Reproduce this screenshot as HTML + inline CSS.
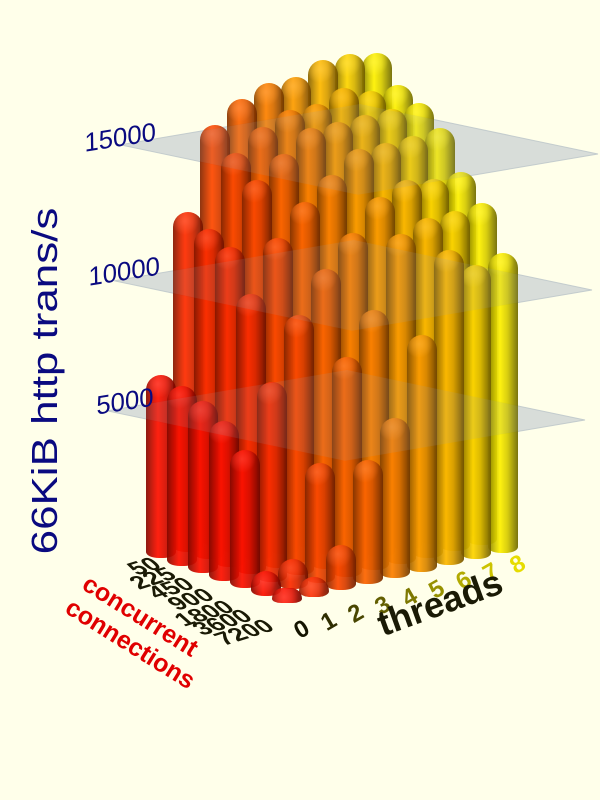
<!DOCTYPE html>
<html><head><meta charset="utf-8"><style>
html,body{margin:0;padding:0}
body{width:600px;height:800px;background:#ffffea;position:relative;overflow:hidden;font-family:"Liberation Sans",sans-serif}
.b{position:absolute;width:30px;border-radius:15px 15px 13px 13px/15px 15px 6px 6px;opacity:0.93}
.t{position:absolute;white-space:nowrap;transform-origin:center center}
svg{position:absolute;left:0;top:0}
</style></head><body>
<svg width="600" height="800" id="pl"></svg>
<div id="bars"></div>
<svg width="600" height="800" id="pl2" style="pointer-events:none"></svg>
<div class="t" style="left:-135px;top:360px;width:360px;text-align:center;font-size:36px;color:#0a0a80;transform:rotate(-90deg) scaleX(1.22)">66KiB http trans/s</div>
<div class="t" style="left:84px;top:122px;font-size:26px;color:#0a0a80;transform:rotate(-9deg) skewX(-8deg)">15000</div>
<div class="t" style="left:88px;top:256px;font-size:26px;color:#0a0a80;transform:rotate(-9deg) skewX(-8deg)">10000</div>
<div class="t" style="left:96px;top:386px;font-size:26px;color:#0a0a80;transform:rotate(-9deg) skewX(-8deg)">5000</div>
<div id="lab"></div>
<script>
function pt(r,t){return [161+21*r+27*t,558+7.5*r-6.3*t];}
var H=[
[183,340,420,440,450,450,460,460,455],
[180,330,400,420,430,430,440,430,430],
[172,320,380,400,420,420,420,420,420],
[160,280,330,360,380,400,400,400,402],
[138,200,260,300,330,360,370,365,366],
[25,30,120,220,260,330,340,340,342],
[15,20,45,124,160,237,315,294,300]];
var items=[];
for(var r=0;r<7;r++)for(var t=0;t<9;t++){var p=pt(r,t);items.push({r:r,t:t,x:p[0],y:p[1],h:H[r][t]});}
items.sort(function(a,b){return a.y-b.y});
var html='';
items.forEach(function(o){
 var hue=4+o.t*6.6;
 var c1='hsl('+hue+',100%,26%)',c2='hsl('+hue+',100%,42%)',c3='hsl('+hue+',100%,50%)',c4='hsl('+hue+',100%,22%)';
 var top=o.y-o.h;
 html+='<div class="b" style="left:'+(o.x-15)+'px;top:'+top+'px;height:'+o.h+'px;background:radial-gradient(circle at 40% 9px,hsla('+hue+',100%,58%,0.9) 0,hsla('+hue+',100%,50%,0) 14px),linear-gradient(90deg,'+c1+' 0%,'+c2+' 25%,'+c3+' 40%,'+c2+' 65%,'+c4+' 100%)"></div>';
});
document.getElementById('bars').innerHTML=html;
function plane(R){var a=240,b=238;var F=[R[0]-a,R[1]+0.17*a],B=[R[0]-b,R[1]-0.21*b],L=[R[0]-a-b,R[1]+0.17*a-0.21*b];
 return [B,R,F,L].map(function(p){return p[0]+','+p[1]}).join(' ');}
var Rs=[[598,154],[592,290],[585,420]];
var s1='',s2='';
Rs.forEach(function(R){s1+='<polygon points="'+plane(R)+'" fill="#e3e7e0" stroke="#c8d0d0" stroke-width="1"/>';s2+='<polygon points="'+plane(R)+'" fill="rgba(150,165,175,0.14)"/>';});
document.getElementById('pl').innerHTML=s1;
document.getElementById('pl2').innerHTML=s2;
var lab='';
var cl=[['50',157,562],['225',172,572],['450',190,582],['900',210,593],['1800',230,605],['3600',248,614],['7200',270,624]];
cl.forEach(function(c){lab+='<div class="t" style="left:'+(c[1]-100)+'px;top:'+(c[2]-14)+'px;width:100px;text-align:right;font-size:26px;line-height:28px;font-weight:bold;color:#1a1a05;transform-origin:right center;transform:matrix(0.9,-0.28,0.7,0.62,0,0)">'+c[0]+'</div>';});
for(var t=0;t<9;t++){var x=302+t*27,y=630-t*8.1;var g=Math.round(t/8*200),rr=Math.round(t/8*210);
 lab+='<div class="t" style="left:'+(x-12)+'px;top:'+(y-14)+'px;width:24px;text-align:center;font-size:24px;font-weight:bold;color:rgb('+(20+rr)+','+(20+g)+',0);transform:rotate(-30deg)">'+t+'</div>';}
lab+='<div class="t" style="left:360px;top:582px;width:160px;text-align:center;font-size:36px;font-weight:bold;color:#1a1a05;transform:rotate(-20deg)">threads</div>';
lab+='<div class="t" style="left:65px;top:602px;width:150px;text-align:center;font-size:25px;font-weight:bold;color:#e00000;transform:rotate(32deg)">concurrent</div>';
lab+='<div class="t" style="left:55px;top:630px;width:150px;text-align:center;font-size:25px;font-weight:bold;color:#e00000;transform:rotate(32deg)">connections</div>';
document.getElementById('lab').innerHTML=lab;
</script>
</body></html>
